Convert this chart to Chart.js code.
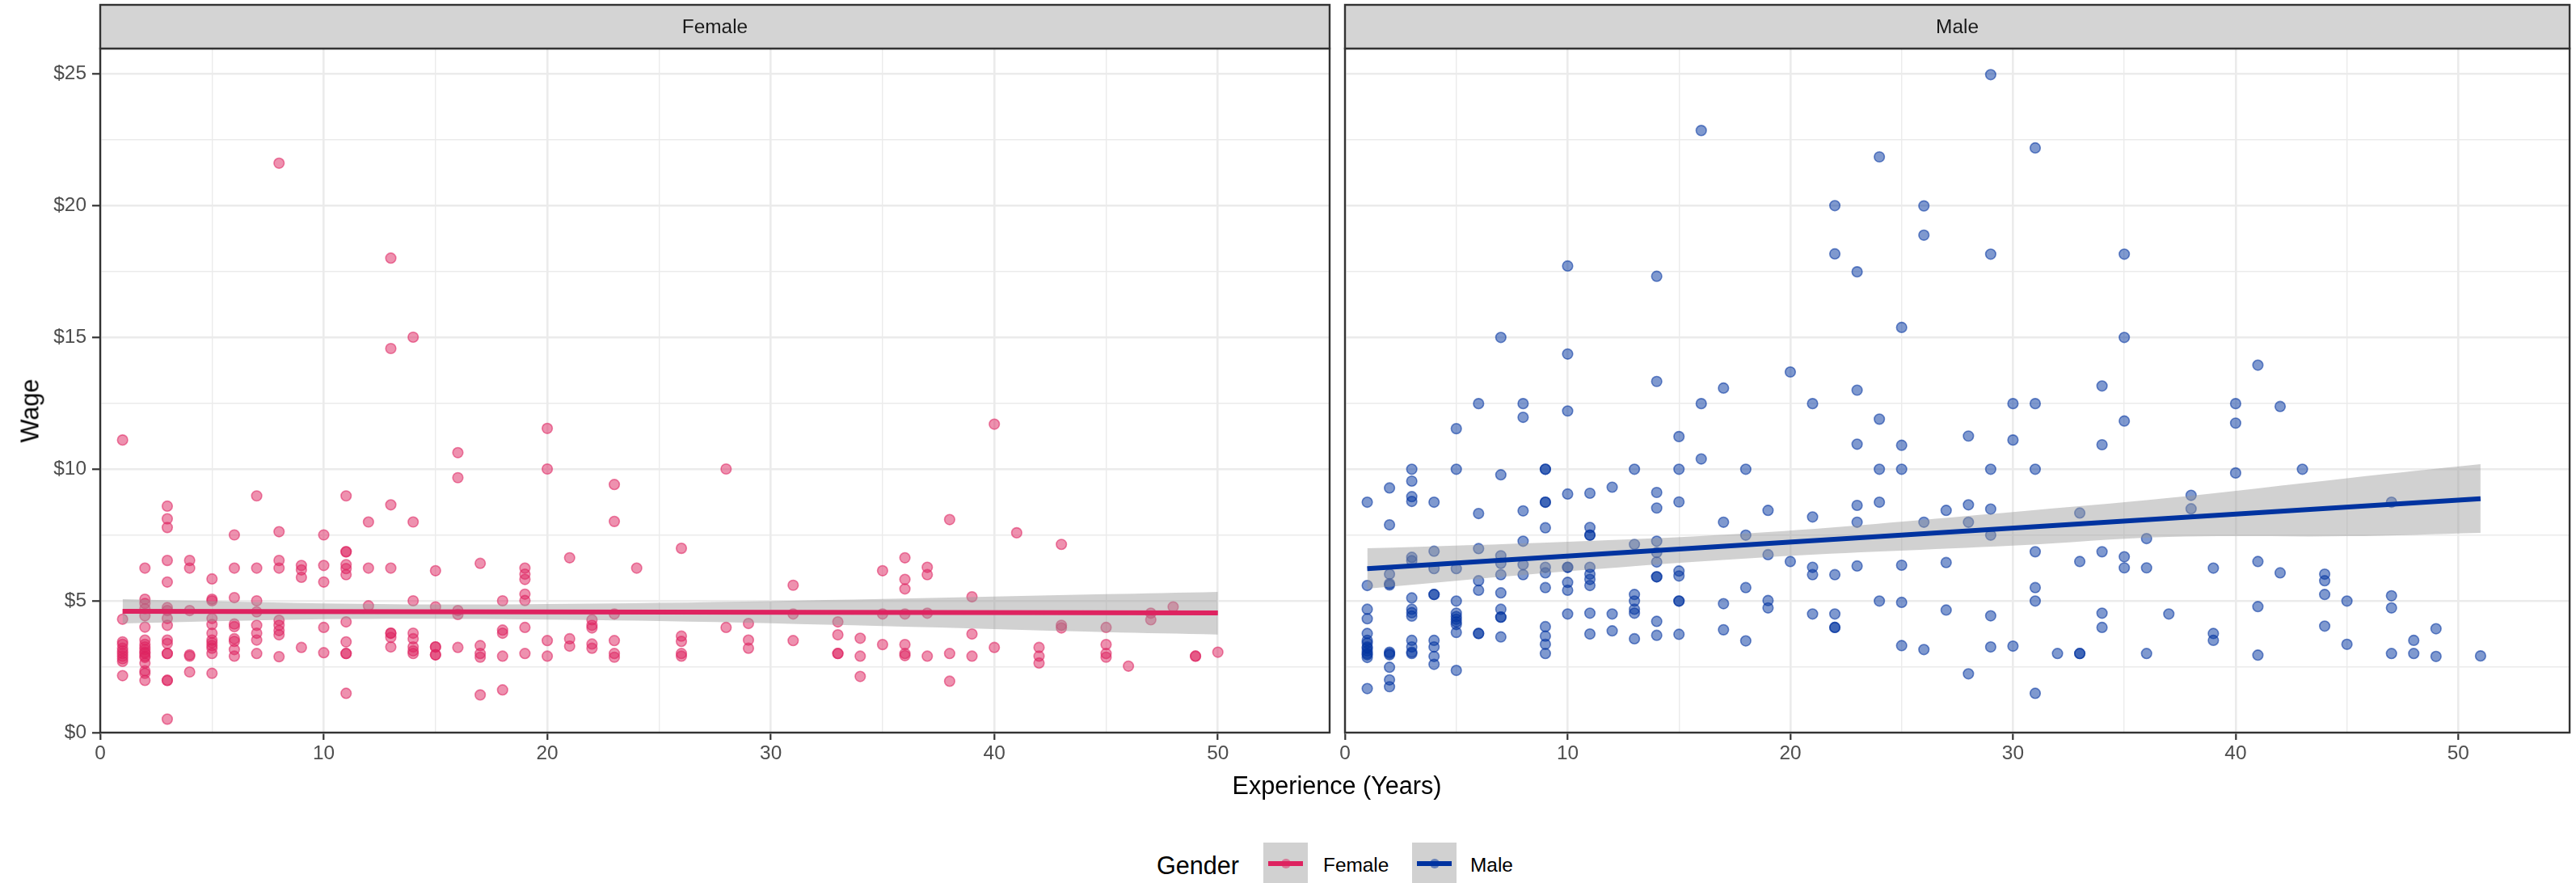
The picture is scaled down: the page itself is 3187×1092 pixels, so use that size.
<!DOCTYPE html>
<html>
<head>
<meta charset="utf-8">
<script src="https://cdn.jsdelivr.net/npm/chart.js@4.4.1/dist/chart.umd.min.js"></script>
<style>
  html, body { margin: 0; padding: 0; background: #ffffff; }
  body { width: 3187px; height: 1092px; overflow: hidden; position: relative; font-family: "Liberation Sans", Arial, sans-serif; }
  canvas { position: absolute; top: 0; }
  .txt { position: absolute; white-space: nowrap; color: #000; }
  .key { position: absolute; top: 1042px; width: 55px; height: 55px; background: rgb(209,209,209); }
  .key .dot { position: absolute; left: 21.5px; top: 20px; width: 12px; height: 12px; border-radius: 50%; }
  .key .ln { position: absolute; left: 6px; top: 23px; width: 43px; height: 6px; }
</style>
</head>
<body>
<canvas id="cf" width="1654" height="1000" style="left:0px"></canvas>
<canvas id="cm" width="1533" height="1000" style="left:1654px"></canvas>

<div class="txt" id="ytitle" style="font-size:30.6px; left:37px; top:508px; transform: translate(-50%,-50%) rotate(-90deg);">Wage</div>
<div class="txt" style="font-size:30.6px; left:1654px; top:971px; transform: translate(-50%,-50%);">Experience (Years)</div>

<div class="txt" style="font-size:30.6px; left:1431px; top:1070px; transform: translateY(-50%);">Gender</div>
<div class="key" style="left:1563px;"><div class="dot" style="background:rgba(222,35,96,0.5)"></div><div class="ln" style="background:rgb(222,35,96)"></div></div>
<div class="txt" style="font-size:24.4px; left:1637px; top:1070px; transform: translateY(-50%);">Female</div>
<div class="key" style="left:1747px;"><div class="dot" style="background:rgba(0,51,160,0.5)"></div><div class="ln" style="background:rgb(0,51,160)"></div></div>
<div class="txt" style="font-size:24.4px; left:1819px; top:1070px; transform: translateY(-50%);">Male</div>

<script>
// ---------------- DATA ----------------
const panels = ["Female", "Male"];

// [experience (years), wage ($)]
const femalePoints = [
[1,11.1],[1,4.3],[1,3.44],[1,3.35],[1,3.2],[1,3.1],[1,3.0],[1,2.9],[1,2.8],[1,2.7],[1,2.16],
[2,6.24],[2,5.06],[2,4.9],[2,4.7],[2,4.43],[2,4.0],[2,3.51],[2,3.35],[2,3.25],[2,3.15],[2,3.05],[2,3.0],[2,2.9],[2,2.85],[2,2.64],[2,2.34],[2,2.25],[2,1.98],
[3,8.59],[3,8.11],[3,7.78],[3,6.53],[3,5.71],[3,4.74],[3,4.63],[3,4.33],[3,4.07],[3,3.51],[3,3.38],[3,3.0],[3,3.0],[3,1.98],[3,1.98],[3,0.51],
[4,6.53],[4,6.24],[4,4.63],[4,2.95],[4,2.9],[4,2.3],
[5,5.83],[5,5.06],[5,5.0],[5,4.33],[5,4.1],[5,3.77],[5,3.51],[5,3.41],[5,3.3],[5,3.2],[5,3.0],[5,2.25],
[6,7.5],[6,6.24],[6,5.12],[6,4.12],[6,4.02],[6,3.56],[6,3.46],[6,3.15],[6,2.9],
[7,8.98],[7,6.24],[7,5.0],[7,4.58],[7,4.07],[7,3.77],[7,3.51],[7,3.0],
[8,21.6],[8,7.62],[8,6.53],[8,6.24],[8,4.26],[8,4.07],[8,3.87],[8,3.71],[8,2.88],
[9,6.34],[9,6.17],[9,5.89],[9,3.23],
[10,7.5],[10,6.34],[10,5.71],[10,3.99],[10,3.03],
[11,8.98],[11,6.86],[11,6.86],[11,6.37],[11,6.22],[11,5.99],[11,4.2],[11,3.44],[11,3.0],[11,3.0],[11,1.49],
[12,7.99],[12,6.24],[12,4.81],
[13,18.0],[13,14.57],[13,8.64],[13,6.24],[13,3.77],[13,3.77],[13,3.61],[13,3.25],
[14,15.0],[14,7.99],[14,5.0],[14,3.77],[14,3.56],[14,3.25],[14,3.1],[14,3.0],
[15,6.14],[15,4.77],[15,3.25],[15,3.25],[15,2.95],[15,2.95],
[16,10.62],[16,9.67],[16,4.63],[16,4.48],[16,3.23],
[17,6.42],[17,3.3],[17,3.0],[17,2.86],[17,1.43],
[18,5.0],[18,3.89],[18,3.77],[18,2.9],[18,1.62],
[19,6.24],[19,6.01],[19,5.81],[19,5.25],[19,5.01],[19,3.99],[19,3.0],
[20,11.54],[20,10.0],[20,3.49],[20,2.9],
[21,6.63],[21,3.56],[21,3.28],
[22,4.28],[22,4.07],[22,3.97],[22,3.36],[22,3.2],
[23,9.41],[23,8.01],[23,4.5],[23,3.49],[23,3.0],[23,2.86],
[24,6.24],
[26,6.99],[26,3.66],[26,3.46],[26,3.0],[26,2.9],
[28,10.0],[28,3.99],
[29,4.14],[29,3.51],[29,3.2],
[31,5.59],[31,4.5],[31,3.49],
[33,4.2],[33,3.71],[33,3.0],[33,3.0],
[34,3.58],[34,2.9],[34,2.13],
[35,6.14],[35,4.5],[35,3.34],
[36,6.63],[36,5.81],[36,5.45],[36,4.5],[36,3.34],[36,3.0],[36,2.92],
[37,6.27],[37,5.99],[37,4.53],[37,2.9],
[38,8.08],[38,3.0],[38,1.95],
[39,5.15],[39,3.74],[39,2.9],
[40,11.7],[40,3.23],
[41,7.58],
[42,3.23],[42,2.9],[42,2.64],
[43,7.14],[43,4.07],[43,3.97],
[45,3.99],[45,3.34],[45,3.0],[45,2.86],
[46,2.52],
[47,4.53],[47,4.28],
[48,4.77],
[49,2.9],[49,2.9],
[50,3.05]
];

const malePoints = [
[1,8.74],[1,5.58],[1,4.68],[1,4.32],[1,3.76],[1,3.5],[1,3.4],[1,3.25],[1,3.2],[1,3.1],[1,3.0],[1,2.95],[1,2.85],[1,1.67],
[2,9.28],[2,7.88],[2,6.01],[2,5.65],[2,5.6],[2,3.05],[2,3.0],[2,2.95],[2,2.48],[2,2.0],[2,1.74],
[3,9.99],[3,9.54],[3,8.95],[3,8.77],[3,6.65],[3,6.52],[3,5.11],[3,4.68],[3,4.55],[3,4.42],[3,3.5],[3,3.25],[3,3.05],[3,3.0],
[4,8.74],[4,6.88],[4,6.22],[4,5.24],[4,5.24],[4,3.5],[4,3.25],[4,2.89],[4,2.59],
[5,11.53],[5,9.99],[5,6.22],[5,4.99],[5,4.53],[5,4.4],[5,4.3],[5,4.2],[5,4.1],[5,3.8],[5,2.36],
[6,12.48],[6,8.31],[6,6.98],[6,5.76],[6,5.4],[6,3.76],[6,3.76],
[7,14.99],[7,9.78],[7,6.71],[7,6.42],[7,5.99],[7,5.3],[7,4.68],[7,4.38],[7,4.38],[7,3.63],
[8,12.48],[8,11.96],[8,8.41],[8,7.26],[8,6.37],[8,5.99],
[9,9.99],[9,9.99],[9,8.74],[9,8.74],[9,7.77],[9,6.27],[9,6.06],[9,5.5],[9,4.02],[9,3.66],[9,3.35],[9,3.0],
[10,17.7],[10,14.36],[10,12.2],[10,9.05],[10,6.27],[10,6.27],[10,5.7],[10,5.4],[10,4.5],
[11,9.08],[11,7.78],[11,7.49],[11,7.49],[11,6.27],[11,6.01],[11,5.81],[11,5.58],[11,4.53],[11,3.74],
[12,9.31],[12,4.5],[12,3.86],
[13,9.99],[13,7.14],[13,5.24],[13,4.99],[13,4.68],[13,4.53],[13,3.56],
[14,17.31],[14,13.32],[14,9.11],[14,8.52],[14,7.26],[14,6.83],[14,6.47],[14,5.91],[14,5.91],[14,4.22],[14,3.69],
[15,11.23],[15,9.99],[15,8.75],[15,6.13],[15,5.94],[15,4.99],[15,4.99],[15,3.73],
[16,22.84],[16,12.48],[16,10.38],
[17,13.07],[17,7.98],[17,4.89],[17,3.9],
[18,9.99],[18,7.49],[18,5.5],[18,3.48],
[19,8.43],[19,6.75],[19,5.01],[19,4.73],
[20,13.68],[20,6.49],
[21,12.48],[21,8.18],[21,6.27],[21,5.99],[21,4.5],
[22,19.99],[22,18.16],[22,5.99],[22,4.5],[22,3.99],[22,3.99],
[23,17.48],[23,12.99],[23,10.94],[23,8.62],[23,7.98],[23,6.32],
[24,21.84],[24,11.89],[24,9.99],[24,8.74],[24,4.99],
[25,15.37],[25,10.9],[25,9.99],[25,6.35],[25,4.94],[25,3.3],
[26,19.98],[26,18.87],[26,7.98],[26,3.15],
[27,8.43],[27,6.45],[27,4.65],
[28,11.25],[28,8.64],[28,7.98],[28,2.23],
[29,24.96],[29,18.15],[29,9.99],[29,8.48],[29,7.49],[29,4.43],[29,3.25],
[30,12.48],[30,11.1],[30,3.28],
[31,22.18],[31,12.48],[31,9.99],[31,6.86],[31,5.5],[31,4.99],[31,1.49],
[32,3.0],
[33,8.33],[33,6.49],[33,3.0],[33,3.0],
[34,13.15],[34,10.92],[34,6.86],[34,4.53],[34,3.99],
[35,18.15],[35,14.99],[35,11.82],[35,6.67],[35,6.25],
[36,7.36],[36,6.25],[36,3.0],
[37,4.5],
[38,9.0],[38,8.49],
[39,6.24],[39,3.76],[39,3.5],
[40,12.48],[40,11.74],[40,9.85],
[41,13.94],[41,6.49],[41,4.78],[41,2.94],
[42,12.37],[42,6.06],
[43,9.99],
[44,6.01],[44,5.76],[44,5.24],[44,4.04],
[45,4.99],[45,3.35],
[47,8.74],[47,5.19],[47,4.73],[47,3.0],
[48,3.5],[48,3.0],
[49,3.94],[49,2.89],
[51,2.91]
];

// fitted line (ends) and confidence band
const femaleFitX = [1, 50];
const femaleFitY = [4.60, 4.54];
const femaleBandX = [1, 10, 17, 25, 35, 45, 50];
const femaleBandHi = [5.06, 4.90, 4.86, 4.92, 5.07, 5.25, 5.34];
const femaleBandLo = [4.14, 4.30, 4.31, 4.23, 4.04, 3.81, 3.72];

const maleFitX = [1, 51];
const maleFitY = [6.22, 8.87];
const maleBandX = [1, 10, 19, 30, 37, 45, 51];
const maleBandHi = [6.99, 7.24, 7.61, 8.37, 8.90, 9.65, 10.18];
const maleBandLo = [5.46, 6.12, 6.66, 7.09, 7.42, 7.45, 7.58];

const xTicksMajor = [0, 10, 20, 30, 40, 50];
const yTicksMajor = [0, 5, 10, 15, 20, 25];

// ---------------- DRAWING ----------------
Chart.defaults.font.family = '"Liberation Sans", Arial, sans-serif';

const zip = (xs, ys) => xs.map((x, i) => ({x: x, y: ys[i]}));
const pts = arr => arr.map(p => ({x: p[0], y: p[1]}));

const panelPlugin = {
  id: 'panel',
  afterDraw(chart, args, opts) {
    const ctx = chart.ctx, a = chart.chartArea;
    ctx.save();
    ctx.lineWidth = 2.4;
    ctx.strokeStyle = '#333333';
    ctx.strokeRect(a.left, a.top, a.right - a.left, a.bottom - a.top);
    // strip
    ctx.fillStyle = '#D4D4D4';
    ctx.fillRect(a.left, 6, a.right - a.left, a.top - 6);
    ctx.strokeRect(a.left, 6, a.right - a.left, a.top - 6);
    ctx.fillStyle = '#1A1A1A';
    ctx.font = '24.4px "Liberation Sans", Arial, sans-serif';
    ctx.textAlign = 'center';
    ctx.textBaseline = 'middle';
    ctx.fillText(opts.label, (a.left + a.right) / 2, (6 + a.top) / 2 + 1);
    ctx.restore();
  }
};

function makeChart(id, label, points, fitX, fitY, bandX, bandHi, bandLo, color, showY) {
  const rgba = a => `rgba(${color[0]},${color[1]},${color[2]},${a})`;
  const isMajorX = v => xTicksMajor.includes(v);
  const isMajorY = v => yTicksMajor.includes(v);
  return new Chart(document.getElementById(id), {
    type: 'scatter',
    data: {
      datasets: [
        { type: 'line', data: zip(fitX, fitY), showLine: true, borderColor: rgba(1), borderWidth: 6,
          pointRadius: 0, fill: false, order: 0, borderCapStyle: 'butt' },
        { type: 'line', data: zip(bandX, bandHi), showLine: true, borderWidth: 0, borderColor: 'rgba(0,0,0,0)',
          pointRadius: 0, fill: false, tension: 0.35, order: 1 },
        { type: 'line', data: zip(bandX, bandLo), showLine: true, borderWidth: 0, borderColor: 'rgba(0,0,0,0)',
          pointRadius: 0, fill: '-1', backgroundColor: 'rgba(153,153,153,0.45)', tension: 0.35, order: 1 },
        { type: 'scatter', data: pts(points), pointRadius: 6.3, pointBorderWidth: 1.6,
          backgroundColor: rgba(0.5), borderColor: rgba(0.55), order: 2 }
      ]
    },
    options: {
      responsive: false, animation: false, devicePixelRatio: 1,
      layout: { padding: { top: 60, right: showY ? 9 : 2, left: 0, bottom: 0 } },
      plugins: { legend: { display: false }, tooltip: { enabled: false }, panel: { label: label } },
      scales: {
        x: {
          type: 'linear', min: 0, max: 55,
          border: { display: false },
          ticks: { stepSize: 5, autoSkip: false, maxRotation: 0, padding: 3, color: '#4D4D4D',
                   font: { size: 24.4 }, includeBounds: false,
                   callback: v => isMajorX(v) ? String(v) : '' },
          grid: { color: '#EBEBEB', lineWidth: c => (c.tick && isMajorX(c.tick.value)) ? 2.6 : 1.4,
                  tickLength: 9, tickWidth: 2.2,
                  tickColor: c => (c.tick && isMajorX(c.tick.value)) ? '#333333' : 'rgba(0,0,0,0)' },
          afterFit: s => { s.height = 94; }
        },
        y: {
          type: 'linear', min: 0, max: 25.95,
          border: { display: false },
          ticks: { display: showY, stepSize: 2.5, includeBounds: false, padding: 7, color: '#4D4D4D',
                   font: { size: 24.4 },
                   callback: v => isMajorY(v) ? '$' + v : '' },
          grid: { color: '#EBEBEB', lineWidth: c => (c.tick && isMajorY(c.tick.value)) ? 2.6 : 1.4,
                  drawTicks: showY, tickLength: 10, tickWidth: 2.2,
                  tickColor: c => (c.tick && isMajorY(c.tick.value)) ? '#333333' : 'rgba(0,0,0,0)' },
          afterFit: s => { s.width = showY ? 124 : 10; }
        }
      }
    },
    plugins: [panelPlugin]
  });
}

makeChart('cf', panels[0], femalePoints, femaleFitX, femaleFitY, femaleBandX, femaleBandHi, femaleBandLo, [222,35,96], true);
makeChart('cm', panels[1], malePoints, maleFitX, maleFitY, maleBandX, maleBandHi, maleBandLo, [0,51,160], false);
</script>
</body>
</html>
